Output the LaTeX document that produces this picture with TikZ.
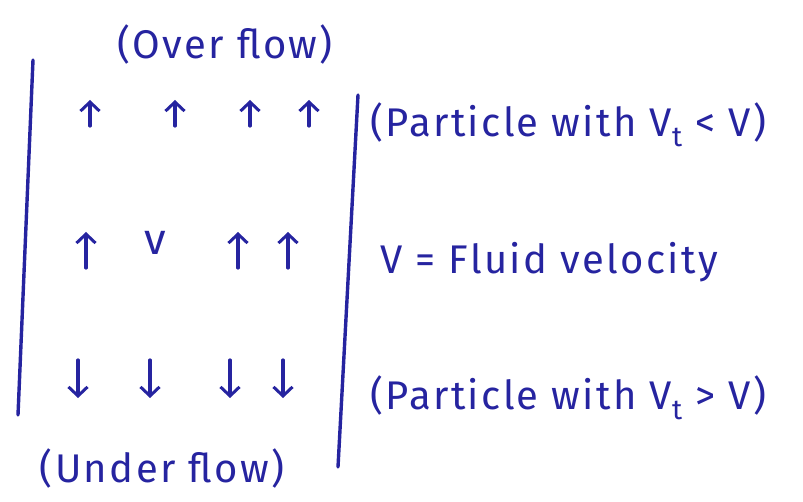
\documentclass[tikz,border=0pt]{standalone}
\usepackage{fontspec}
\setmainfont{Fira Sans}[LetterSpace=6]
\usetikzlibrary{arrows.meta}
\definecolor{ink}{RGB}{38,36,160}
\tikzset{
  wall/.style={draw=ink, line width=3.4pt, line cap=round},
  flowarrow/.style={draw=ink, line width=3.2pt, line cap=round,
    -{Straight Barb[length=9pt,width=19pt,line width=3pt]}},
  hand/.style={text=ink, inner sep=0pt, font=\fontsize{40}{46}\selectfont},
}
\begin{document}
\begin{tikzpicture}[x=1pt,y=-1pt]
\useasboundingbox (0,0) rectangle (803,502);
% walls
\coordinate (lt) at (33,60);
\coordinate (lb) at (18,415);
\coordinate (rt) at (358,95);
\coordinate (rb) at (338,467);
\draw[wall] (lt) -- (lb);
\draw[wall] (rt) -- (rb);
% row 1 : up arrows
\foreach \x [count=\i] in {90,175,250,309} {
  \coordinate (a\i s) at (\x,126);
  \coordinate (a\i e) at (\x,100);
  \draw[flowarrow] (a\i s) -- (a\i e);
}
% row 2 : up arrows and V
\foreach \x [count=\i] in {86,238,288} {
  \coordinate (b\i s) at (\x,268);
  \coordinate (b\i e) at (\x,232);
  \draw[flowarrow] (b\i s) -- (b\i e);
}
\node[hand, font=\fontsize{44}{48}\selectfont] (vrow) at (155,243) {v};
% row 3 : down arrows
\foreach \x [count=\i] in {78,150,230,283} {
  \coordinate (c\i s) at (\x,360);
  \coordinate (c\i e) at (\x,398);
  \draw[flowarrow] (c\i s) -- (c\i e);
}
% labels
\node[hand] (over) at (225,45) {(Over flow)};
\node[hand, anchor=west] (small) at (370,125) {(Particle with V\textsubscript{t} < V)};
\node[hand, anchor=west] (fluid) at (380,262) {V = Fluid velocity};
\node[hand, anchor=west] (large) at (370,398) {(Particle with V\textsubscript{t} > V)};
\node[hand] (under) at (162,468) {(Under flow)};
\end{tikzpicture}
\end{document}
